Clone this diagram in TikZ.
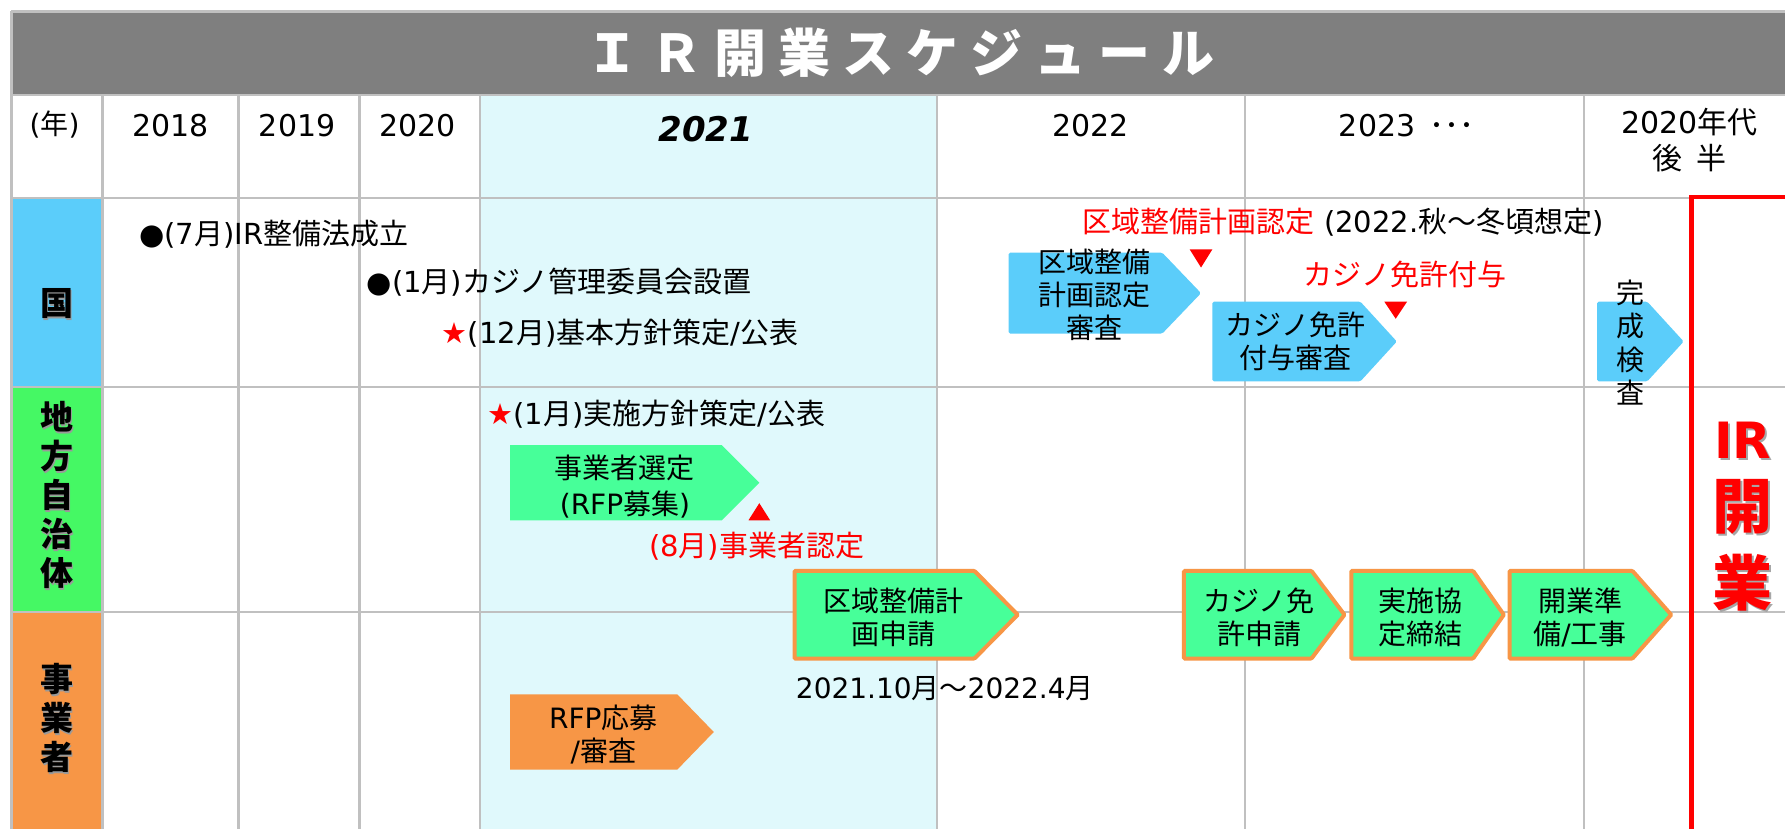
\documentclass[tikz,border=0pt]{standalone}
\usepackage{fontspec}
\setmainfont{DejaVu Sans}
\newfontfamily\latf{DejaVu Sans}
\newfontfamily\jpf{Noto Sans CJK JP}
\XeTeXinterchartokenstate=1
\newXeTeXintercharclass\jclass
\newcount\jcnt
\jcnt=32
\loop\ifnum\jcnt<"3000 \XeTeXcharclass\jcnt=0 \advance\jcnt by 1 \repeat
\jcnt="3000
\loop\ifnum\jcnt<"A000 \XeTeXcharclass\jcnt=\jclass \advance\jcnt by 1 \repeat
\jcnt="FF00
\loop\ifnum\jcnt<"FFF0 \XeTeXcharclass\jcnt=\jclass \advance\jcnt by 1 \repeat
\XeTeXinterchartoks 0 \jclass = {\jpf}
\XeTeXinterchartoks 4095 \jclass = {\jpf}
\XeTeXinterchartoks \jclass 0 = {\latf}
\XeTeXinterchartoks 4095 0 = {\latf}

\definecolor{gridc}{HTML}{C0C0C0}
\definecolor{titlec}{HTML}{7F7F7F}
\definecolor{cyanbg}{HTML}{E0F9FC}
\definecolor{bluec}{HTML}{5BCDFA}
\definecolor{greenl}{HTML}{45F864}
\definecolor{orangec}{HTML}{F79646}
\definecolor{mintc}{HTML}{47FF99}

\newcommand\abox[6]{% style, L, R, tip, T, B
  \path[#1] (#2,#5) -- (#3,#5) -- (#4,{(#5+#6)/2}) -- (#3,#6) -- (#2,#6) -- cycle;}
\newcommand\tsp{\hspace{12pt}}

\tikzset{
  gridline/.style={draw=gridc, line width=2.5pt},
  hdr/.style={font=\fontsize{30}{36}\selectfont, align=center, inner sep=0pt},
  ev/.style={font=\fontsize{29}{35}\selectfont, anchor=west, inner sep=0pt},
  bt/.style={font=\fontsize{28}{33}\selectfont, align=center, inner sep=0pt},
  labf/.style={font=\fontsize{33}{39}\selectfont\bfseries, align=center, inner sep=0pt},
  labshadow/.style={labf, text=black!40},
  bigred/.style={font=\fontsize{60}{60}\selectfont\bfseries, text=red, inner sep=0pt},
  bigshadow/.style={font=\fontsize{60}{60}\selectfont\bfseries, text=black!35, inner sep=0pt},
  bluebox/.style={fill=bluec, rounded corners=1.5pt},
  mintbox/.style={fill=mintc},
  orbox/.style={fill=orangec},
  obbox/.style={fill=mintc, draw=orangec, line width=4pt, rounded corners=1pt},
  tri/.style={fill=red},
}

\begin{document}
\begin{tikzpicture}[x=1.1384pt, y=-1.1384pt]
\useasboundingbox (0,0) rectangle (1568,728);
\clip (0,0) rectangle (1568,728);
\fill[white] (0,0) rectangle (1568,728);

% fills
\fill[titlec] (10,10) rectangle (1568,83.5);
\fill[cyanbg] (421.5,83.5) rectangle (823,728);
\fill[bluec] (10,174) rectangle (90,340);
\fill[greenl] (10,340) rectangle (90,537.5);
\fill[orangec] (10,537.5) rectangle (90,728);

% grid
\draw[gridline] (10,10) -- (1570,10);
\draw[gridline] (10,10) -- (10,730);
\foreach \x in {90,209.5,316,421.5,823,1093.5,1391.5}
  \draw[gridline] (\x,83.5) -- (\x,730);
\foreach \y in {83.5,174,340,537.5}
  \draw[gridline] (10,\y) -- (1570,\y);

% red opening frame
\draw[red, line width=4.8pt] (1600,173) -- (1485.5,173) -- (1485.5,760);

% title
\node[font=\fontsize{52}{52}\selectfont\bfseries, text=white, inner sep=0pt] (title) at (791,46)
  {Ｉ\tsp Ｒ\tsp 開\tsp 業\tsp ス\tsp ケ\tsp ジ\tsp ュ\tsp ー\tsp ル};

% header
\node[font=\fontsize{28}{28}\selectfont, inner sep=0pt] (nen) at (48,109) {(年)};
\node[hdr] (y18) at (150,110.5) {2018};
\node[hdr] (y19) at (261,110.5) {2019};
\node[hdr] (y20) at (367,110.5) {2020};
\node[font=\fontsize{34}{34}\selectfont\bfseries\itshape, inner sep=0pt] (y21) at (620,113.5) {2021};
\node[hdr] (y22) at (958,110.5) {2022};
\node[hdr, anchor=west] (y23) at (1176,110.5) {2023\hspace{14pt}･･･};
\node[hdr] (y2x) at (1484,123) {2020年代\\後\hspace{0.45em}半};

% row labels
\node[labshadow] (lkunS) at (51.3,268.3) {国};
\node[labf] (lkun) at (50,267) {国};
\node[labshadow] (lchiS) at (51.3,436.3) {地\\方\\自\\治\\体};
\node[labf] (lchi) at (50,435) {地\\方\\自\\治\\体};
\node[labshadow] (ljigS) at (51.3,632.3) {事\\業\\者};
\node[labf] (ljig) at (50,631) {事\\業\\者};

% national row events
\node[ev] (e1) at (122,205.5) {●(7月)IR整備法成立};
\node[ev] (e2) at (322,248) {●(1月)カジノ管理委員会設置};
\node[ev] (e3) at (388,293) {\textcolor{red}{★}(12月)基本方針策定/公表};
\node[ev] (e4) at (951,195) {\textcolor{red}{区域整備計画認定} (2022.秋～冬頃想定)};
\node[ev, text=red] (e5) at (1145,241) {カジノ免許付与};

\abox{bluebox}{886}{1021}{1055}{222}{293}
\node[bt] (b1) at (961,259) {区域整備\\計画認定\\審査};
\abox{bluebox}{1065}{1195}{1227}{265}{335}
\node[bt] (b2) at (1138,299.5) {カジノ免許\\付与審査};
\abox{bluebox}{1403}{1447}{1479}{265}{335}
\node[font=\fontsize{28}{33.5}\selectfont, align=center, inner sep=0pt] (b3) at (1432,301) {完\\成\\検\\査};

\path[tri] (1045,219) -- (1065,219) -- (1055,235) -- cycle;
\path[tri] (1216,265) -- (1236,265) -- (1226,280) -- cycle;

% local government row
\node[ev] (e6) at (428,364) {\textcolor{red}{★}(1月)実施方針策定/公表};
\abox{mintbox}{448}{634}{667}{391}{457}
\node[font=\fontsize{28}{36}\selectfont, align=center, inner sep=0pt] (b4) at (549,427) {事業者選定\\(RFP募集)};
\path[tri] (657.5,457) -- (676.5,457) -- (667,442) -- cycle;
\node[ev, text=red] (e7) at (570,480) {(8月)事業者認定};

% operator boxes across boundary
\abox{obbox}{698}{856}{894}{501.5}{578.5}
\node[bt] (b5) at (785,542) {区域整備計\\画申請};
\abox{obbox}{1040}{1152}{1181}{501.5}{578.5}
\node[bt] (b6) at (1106,542.5) {カジノ免\\許申請};
\abox{obbox}{1187}{1294}{1321}{501.5}{578.5}
\node[bt] (b7) at (1248,542.5) {実施協\\定締結};
\abox{obbox}{1326}{1434}{1468}{501.5}{578.5}
\node[bt] (b8) at (1388,542.5) {開業準\\備/工事};

\node[font=\fontsize{28}{33}\selectfont, anchor=west, inner sep=0pt] (e8) at (699,605) {2021.10月～2022.4月};

% operator row
\abox{orbox}{448}{595}{627}{610}{676}
\node[bt] (b9) at (530,645.5) {RFP応募\\/審査};

% IR opening
\node[font=\fontsize{50}{50}\selectfont\bfseries, text=black!35, inner sep=0pt] (irS) at (1532.8,388.8) {IR};
\node[font=\fontsize{50}{50}\selectfont\bfseries, text=red, inner sep=0pt] (ir) at (1531,387) {IR};
\node[bigshadow] (kaiS) at (1532.8,446.8) {開};
\node[bigred] (kai) at (1531,445) {開};
\node[bigshadow] (gyoS) at (1532.8,513.8) {業};
\node[bigred] (gyo) at (1531,512) {業};
\end{tikzpicture}
\end{document}
